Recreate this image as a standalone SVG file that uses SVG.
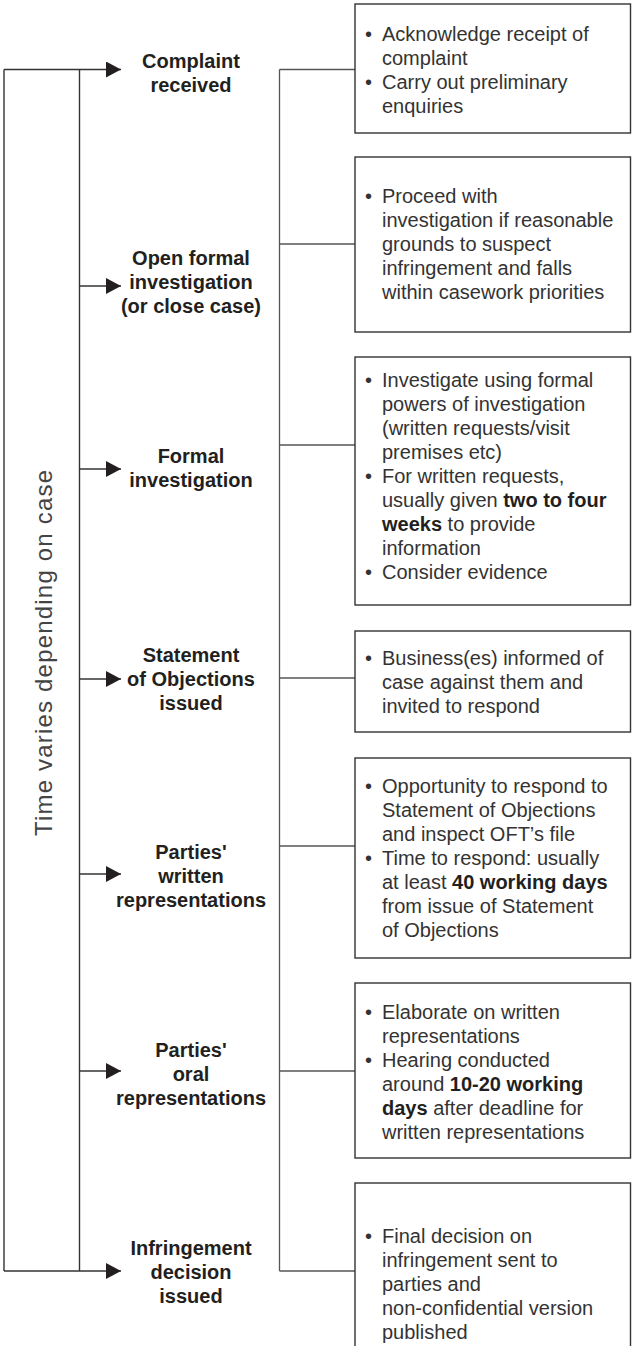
<svg xmlns="http://www.w3.org/2000/svg" width="634" height="1346" viewBox="0 0 634 1346">
<style>
.ln{stroke:#333;stroke-width:1.4;fill:none}
.br{stroke:#555;stroke-width:1.3;fill:none}
.box{stroke:#333;stroke-width:1.4;fill:#fff}
.lbl{font-family:"Liberation Sans",Arial,sans-serif;font-weight:bold;font-size:20px;fill:#231f20;text-anchor:middle}
.tx{font-family:"Liberation Sans",Arial,sans-serif;font-size:20px;fill:#333}
.b{font-weight:bold;fill:#231f20}
.side{font-family:"Liberation Sans",Arial,sans-serif;font-size:24px;fill:#444}
</style>
<defs>
<marker id="ah" markerUnits="userSpaceOnUse" markerWidth="16" markerHeight="17" refX="15" refY="8" orient="auto">
<path d="M0,0 L15,8 L0,16 Z" fill="#231f20"/>
</marker>
</defs>
<g id="connectors">
<path class="ln" d="M4,69.5 V1271 M79.5,69.5 V1271"/>
<line class="ln" x1="4" y1="69.5" x2="121" y2="69.5" marker-end="url(#ah)"/>
<line class="ln" x1="79.5" y1="286" x2="121" y2="286" marker-end="url(#ah)"/>
<line class="ln" x1="79.5" y1="469" x2="121" y2="469" marker-end="url(#ah)"/>
<line class="ln" x1="79.5" y1="679" x2="121" y2="679" marker-end="url(#ah)"/>
<line class="ln" x1="79.5" y1="874" x2="121" y2="874" marker-end="url(#ah)"/>
<line class="ln" x1="79.5" y1="1071" x2="121" y2="1071" marker-end="url(#ah)"/>
<line class="ln" x1="4" y1="1271" x2="121" y2="1271" marker-end="url(#ah)"/>
<path class="br" d="M279.5,69.5 V1271 M279.5,69.5 H355 M279.5,244 H355 M279.5,445 H355 M279.5,678 H355 M279.5,846 H355 M279.5,1071 H355 M279.5,1271 H355"/>
</g>
<g id="timeline-label">
<text class="side" transform="translate(52,836) rotate(-90)" textLength="366" lengthAdjust="spacing">Time varies depending on case</text>
</g>
<g id="step1">
<text class="lbl" x="191" y="68">Complaint</text>
<text class="lbl" x="191" y="92">received</text>
</g>
<g id="step2">
<text class="lbl" x="191" y="265">Open formal</text>
<text class="lbl" x="191" y="289">investigation</text>
<text class="lbl" x="191" y="313">(or close case)</text>
</g>
<g id="step3">
<text class="lbl" x="191" y="463">Formal</text>
<text class="lbl" x="191" y="487">investigation</text>
</g>
<g id="step4">
<text class="lbl" x="191" y="662">Statement</text>
<text class="lbl" x="191" y="686">of Objections</text>
<text class="lbl" x="191" y="710">issued</text>
</g>
<g id="step5">
<text class="lbl" x="191" y="859">Parties'</text>
<text class="lbl" x="191" y="883">written</text>
<text class="lbl" x="191" y="907">representations</text>
</g>
<g id="step6">
<text class="lbl" x="191" y="1057">Parties'</text>
<text class="lbl" x="191" y="1081">oral</text>
<text class="lbl" x="191" y="1105">representations</text>
</g>
<g id="step7">
<text class="lbl" x="191" y="1255">Infringement</text>
<text class="lbl" x="191" y="1279">decision</text>
<text class="lbl" x="191" y="1303">issued</text>
</g>
<g id="box1">
<rect class="box" x="355" y="4" width="275.5" height="129"/>
<text class="tx" x="365" y="41">•</text>
<text class="tx" x="382" y="41">Acknowledge receipt of</text>
<text class="tx" x="382" y="65">complaint</text>
<text class="tx" x="365" y="89">•</text>
<text class="tx" x="382" y="89">Carry out preliminary</text>
<text class="tx" x="382" y="113">enquiries</text>
</g>
<g id="box2">
<rect class="box" x="355" y="157" width="275.5" height="175"/>
<text class="tx" x="365" y="203">•</text>
<text class="tx" x="382" y="203">Proceed with</text>
<text class="tx" x="382" y="227">investigation if reasonable</text>
<text class="tx" x="382" y="251">grounds to suspect</text>
<text class="tx" x="382" y="275">infringement and falls</text>
<text class="tx" x="382" y="299">within casework priorities</text>
</g>
<g id="box3">
<rect class="box" x="355" y="357" width="275.5" height="248"/>
<text class="tx" x="365" y="387">•</text>
<text class="tx" x="382" y="387">Investigate using formal</text>
<text class="tx" x="382" y="411">powers of investigation</text>
<text class="tx" x="382" y="435">(written requests/visit</text>
<text class="tx" x="382" y="459">premises etc)</text>
<text class="tx" x="365" y="483">•</text>
<text class="tx" x="382" y="483">For written requests,</text>
<text class="tx" x="382" y="507">usually given <tspan class="b">two to four</tspan></text>
<text class="tx" x="382" y="531"><tspan class="b">weeks</tspan> to provide</text>
<text class="tx" x="382" y="555">information</text>
<text class="tx" x="365" y="579">•</text>
<text class="tx" x="382" y="579">Consider evidence</text>
</g>
<g id="box4">
<rect class="box" x="355" y="631" width="275.5" height="101"/>
<text class="tx" x="365" y="665">•</text>
<text class="tx" x="382" y="665">Business(es) informed of</text>
<text class="tx" x="382" y="689">case against them and</text>
<text class="tx" x="382" y="713">invited to respond</text>
</g>
<g id="box5">
<rect class="box" x="355" y="758" width="275.5" height="200"/>
<text class="tx" x="365" y="793">•</text>
<text class="tx" x="382" y="793">Opportunity to respond to</text>
<text class="tx" x="382" y="817">Statement of Objections</text>
<text class="tx" x="382" y="841">and inspect OFT’s file</text>
<text class="tx" x="365" y="865">•</text>
<text class="tx" x="382" y="865">Time to respond: usually</text>
<text class="tx" x="382" y="889">at least <tspan class="b">40 working days</tspan></text>
<text class="tx" x="382" y="913">from issue of Statement</text>
<text class="tx" x="382" y="937">of Objections</text>
</g>
<g id="box6">
<rect class="box" x="355" y="983" width="275.5" height="175"/>
<text class="tx" x="365" y="1019">•</text>
<text class="tx" x="382" y="1019">Elaborate on written</text>
<text class="tx" x="382" y="1043">representations</text>
<text class="tx" x="365" y="1067">•</text>
<text class="tx" x="382" y="1067">Hearing conducted</text>
<text class="tx" x="382" y="1091">around <tspan class="b">10-20 working</tspan></text>
<text class="tx" x="382" y="1115"><tspan class="b">days</tspan> after deadline for</text>
<text class="tx" x="382" y="1139">written representations</text>
</g>
<g id="box7">
<rect class="box" x="355" y="1183" width="275.5" height="180"/>
<text class="tx" x="365" y="1243">•</text>
<text class="tx" x="382" y="1243">Final decision on</text>
<text class="tx" x="382" y="1267">infringement sent to</text>
<text class="tx" x="382" y="1291">parties and</text>
<text class="tx" x="382" y="1315">non-confidential version</text>
<text class="tx" x="382" y="1339">published</text>
</g>
</svg>
